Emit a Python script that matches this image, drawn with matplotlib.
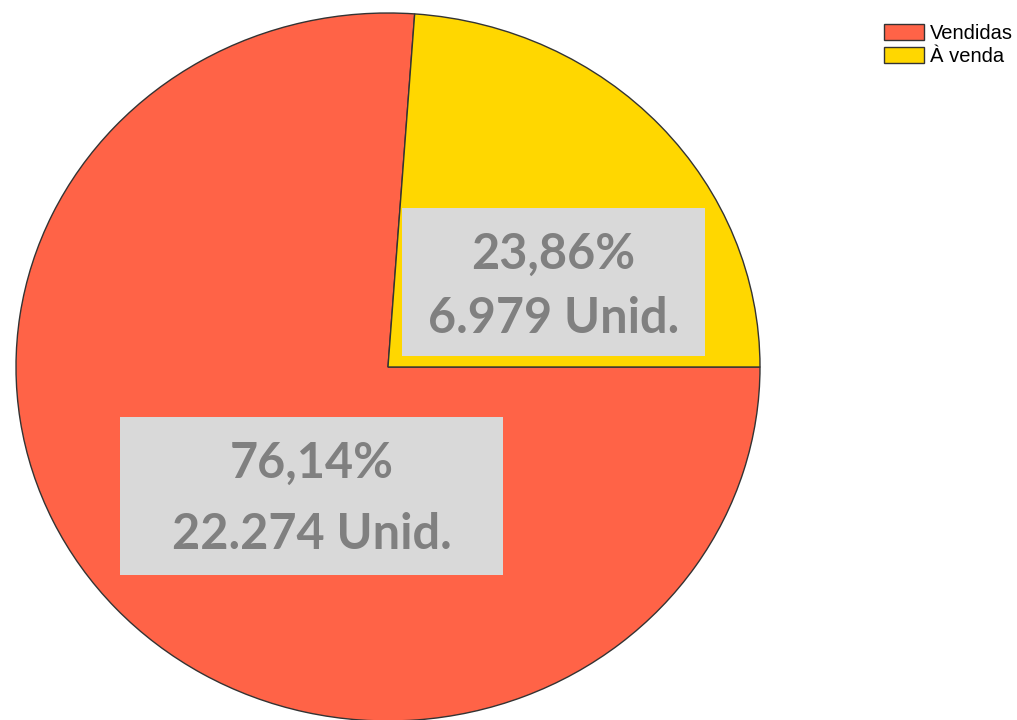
import matplotlib
matplotlib.use("Agg")
import matplotlib.pyplot as plt
from matplotlib.patches import Rectangle

categories = ["Vendidas", "À venda"]
units = [22274, 6979]
colors = ["#FF6347", "#FFD700"]

W, H = 1017, 720
fig = plt.figure(figsize=(W / 100, H / 100), dpi=100)
ax = fig.add_axes([0, 0, 1, 1])

wedges, _ = ax.pie(units, colors=colors, startangle=0, counterclock=False,
                   radius=1, center=(0, 0),
                   wedgeprops=dict(edgecolor="#333333", linewidth=1.0))
ax.set_aspect("auto")
cx, cy, rx, ry = 388, 367, 372, 354
ax.set_xlim(-cx / rx, (W - cx) / rx)
ax.set_ylim(-(H - cy) / ry, cy / ry)
ax.axis("off")

total = sum(units)
def fmt_units(v):
    return f"{v:,}".replace(",", ".")
def fmt_pct(v):
    return f"{100 * v / total:.2f}".replace(".", ",") + "%"

# label boxes (pixel layout)
boxes = [(120, 417, 503, 575, 478, 549), (402, 208, 705, 356, 269, 333)]
for (x0, y0, x1, y1, b1, b2), v in zip(boxes, units):
    fig.patches.append(Rectangle((x0 / W, 1 - y1 / H), (x1 - x0) / W, (y1 - y0) / H,
                                 transform=fig.transFigure, facecolor="#D9D9D9",
                                 edgecolor="none", zorder=3))
    xc = (x0 + x1) / 2 / W
    for b, s in [(b1, fmt_pct(v)), (b2, f"{fmt_units(v)} Unid.")]:
        fig.text(xc, 1 - b / H, s, ha="center", va="baseline", fontsize=35,
                 fontweight="bold", family="Lato", color="#808080", zorder=4)

leg = fig.legend(wedges, categories, loc="upper left",
                 bbox_to_anchor=(884 / W, 1 - 24 / H), frameon=False,
                 prop=dict(family="Liberation Sans", size=14.5),
                 handlelength=2.0, handleheight=0.8, handletextpad=0.3,
                 labelspacing=0.2, borderpad=0, borderaxespad=0)

fig.savefig("out.png", dpi=100)
